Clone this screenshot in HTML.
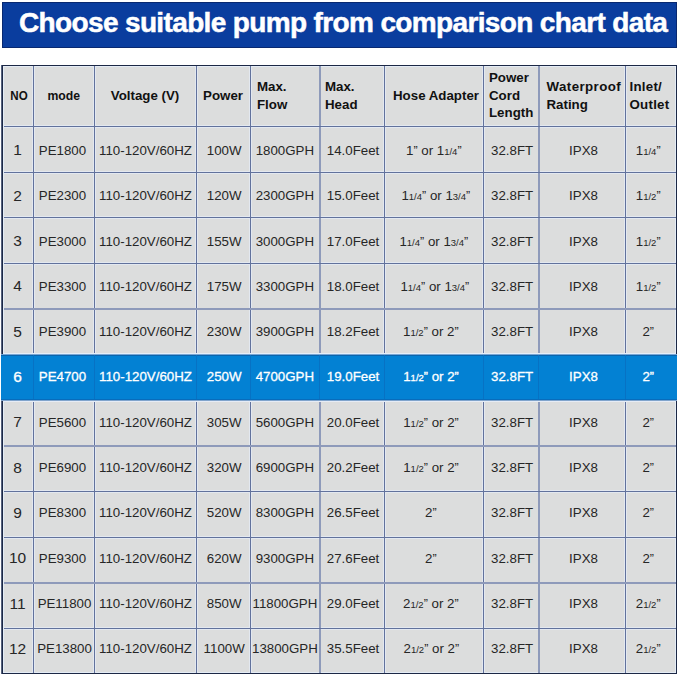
<!DOCTYPE html>
<html><head><meta charset="utf-8">
<style>
html,body{margin:0;padding:0;background:#fff;}
body{width:679px;height:676px;position:relative;overflow:hidden;font-family:"Liberation Sans",sans-serif;}
.banner{position:absolute;left:2px;top:2px;width:675px;height:46px;box-sizing:border-box;border:1px solid #082870;background:#0a3d9e;}
.title{position:absolute;left:16px;top:-3px;height:45px;line-height:45px;color:#fff;font-weight:bold;font-size:28px;letter-spacing:-0.64px;white-space:nowrap;-webkit-text-stroke:0.5px #fff;}
.tbl{position:absolute;left:2px;top:65px;width:674.5px;height:608px;background:#dcdddd;}
.vl{position:absolute;width:1px;background:#7a8496;}
.hl{position:absolute;height:1px;background:#7a8496;}
.c{position:absolute;display:flex;align-items:center;justify-content:center;color:#262626;font-size:13.3px;white-space:nowrap;}
.hd{font-weight:bold;line-height:17.7px;color:#111;}
.hd span{text-align:left;display:block;}
.fr{font-size:9.5px;}
.q{font-size:12.5px;}
.hi{position:absolute;background:#0381d3;}
.w{color:#fff;}
.w span{-webkit-text-stroke:0.3px #fff;}
.no{font-size:15.5px;}
.no span{position:relative;top:0px;}
</style></head><body>
<div class="banner"><div class="title">Choose suitable pump from comparison chart data</div></div>
<div class="tbl"></div>

<div style="position:absolute;left:3px;top:66px;width:673px;height:1px;background:#e4ecf6"></div>
<div style="position:absolute;left:3px;top:672px;width:673px;height:1px;background:#e4ecf6"></div>
<div style="position:absolute;left:675px;top:66px;width:1px;height:607px;background:#e4ecf6"></div>
<div style="position:absolute;left:32px;top:66px;width:3px;height:607px;background:#e3e8f0"></div>
<div style="position:absolute;left:93px;top:66px;width:3px;height:607px;background:#e3e8f0"></div>
<div style="position:absolute;left:195px;top:66px;width:3px;height:607px;background:#e3e8f0"></div>
<div style="position:absolute;left:249px;top:66px;width:3px;height:607px;background:#e3e8f0"></div>
<div style="position:absolute;left:383px;top:66px;width:3px;height:607px;background:#e3e8f0"></div>
<div style="position:absolute;left:482px;top:66px;width:3px;height:607px;background:#e3e8f0"></div>
<div style="position:absolute;left:624px;top:66px;width:3px;height:607px;background:#e3e8f0"></div>
<div style="position:absolute;left:3px;top:125px;width:673px;height:3px;background:#e3e8f0"></div>
<div style="position:absolute;left:3px;top:171px;width:673px;height:3px;background:#e3e8f0"></div>
<div style="position:absolute;left:3px;top:216px;width:673px;height:3px;background:#e3e8f0"></div>
<div style="position:absolute;left:3px;top:262px;width:673px;height:3px;background:#e3e8f0"></div>
<div style="position:absolute;left:3px;top:353px;width:673px;height:3px;background:#e3e8f0"></div>
<div style="position:absolute;left:3px;top:399px;width:673px;height:3px;background:#e3e8f0"></div>
<div style="position:absolute;left:3px;top:490px;width:673px;height:3px;background:#e3e8f0"></div>
<div style="position:absolute;left:3px;top:536px;width:673px;height:3px;background:#e3e8f0"></div>
<div style="position:absolute;left:3px;top:627px;width:673px;height:3px;background:#e3e8f0"></div>
<div style="position:absolute;left:33px;top:66px;width:1px;height:607px;background:#62729c"></div>
<div style="position:absolute;left:94px;top:66px;width:1px;height:607px;background:#62729c"></div>
<div style="position:absolute;left:196px;top:66px;width:1px;height:607px;background:#62729c"></div>
<div style="position:absolute;left:250px;top:66px;width:1px;height:607px;background:#62729c"></div>
<div style="position:absolute;left:319px;top:66px;width:2px;height:607px;background:#8e9aba"></div>
<div style="position:absolute;left:384px;top:66px;width:1px;height:607px;background:#62729c"></div>
<div style="position:absolute;left:483px;top:66px;width:1px;height:607px;background:#62729c"></div>
<div style="position:absolute;left:538px;top:66px;width:2px;height:607px;background:#8e9aba"></div>
<div style="position:absolute;left:625px;top:66px;width:1px;height:607px;background:#62729c"></div>
<div style="position:absolute;left:3px;top:126px;width:673px;height:1px;background:#62729c"></div>
<div style="position:absolute;left:3px;top:172px;width:673px;height:1px;background:#62729c"></div>
<div style="position:absolute;left:3px;top:217px;width:673px;height:1px;background:#62729c"></div>
<div style="position:absolute;left:3px;top:263px;width:673px;height:1px;background:#62729c"></div>
<div style="position:absolute;left:3px;top:308px;width:673px;height:2px;background:#8e9aba"></div>
<div style="position:absolute;left:3px;top:354px;width:673px;height:1px;background:#62729c"></div>
<div style="position:absolute;left:3px;top:400px;width:673px;height:1px;background:#62729c"></div>
<div style="position:absolute;left:3px;top:445px;width:673px;height:2px;background:#8e9aba"></div>
<div style="position:absolute;left:3px;top:491px;width:673px;height:1px;background:#62729c"></div>
<div style="position:absolute;left:3px;top:537px;width:673px;height:1px;background:#62729c"></div>
<div style="position:absolute;left:3px;top:582px;width:673px;height:2px;background:#8e9aba"></div>
<div style="position:absolute;left:3px;top:628px;width:673px;height:1px;background:#62729c"></div>
<div style="position:absolute;left:1px;top:65px;width:676px;height:1px;background:#1c2845"></div>
<div style="position:absolute;left:1px;top:673px;width:676px;height:1px;background:#1c2845"></div>
<div style="position:absolute;left:1px;top:65px;width:1px;height:609px;background:#56627e"></div>
<div style="position:absolute;left:2px;top:65px;width:1px;height:609px;background:#1c2845"></div>
<div style="position:absolute;left:3px;top:66px;width:1px;height:607px;background:#e4ecf6"></div>
<div style="position:absolute;left:676px;top:65px;width:1px;height:609px;background:#1c2845"></div>
<div class="hi" style="left:1px;top:354px;width:676px;height:47px"></div>
<div style="position:absolute;left:3px;top:353px;width:673px;height:1px;background:#e6eef8"></div>
<div style="position:absolute;left:1px;top:354px;width:676px;height:1px;background:#78a6d4"></div>
<div style="position:absolute;left:1px;top:355px;width:676px;height:1px;background:#0b64ac"></div>
<div style="position:absolute;left:1px;top:399px;width:676px;height:1px;background:#086cbc"></div>
<div style="position:absolute;left:1px;top:400px;width:676px;height:1px;background:#80a4cc"></div>
<div style="position:absolute;left:3px;top:401px;width:673px;height:1px;background:#e6ecf6"></div>
<div style="position:absolute;left:33px;top:355px;width:1px;height:44px;background:#0772c4"></div>
<div style="position:absolute;left:94px;top:355px;width:1px;height:44px;background:#0772c4"></div>
<div style="position:absolute;left:196px;top:355px;width:1px;height:44px;background:#0772c4"></div>
<div style="position:absolute;left:250px;top:355px;width:1px;height:44px;background:#0772c4"></div>
<div style="position:absolute;left:319px;top:355px;width:1px;height:44px;background:#0772c4"></div>
<div style="position:absolute;left:384px;top:355px;width:1px;height:44px;background:#0772c4"></div>
<div style="position:absolute;left:483px;top:355px;width:1px;height:44px;background:#0772c4"></div>
<div style="position:absolute;left:538px;top:355px;width:1px;height:44px;background:#0772c4"></div>
<div style="position:absolute;left:625px;top:355px;width:1px;height:44px;background:#0772c4"></div>
<div class="c hd" style="left:3.5px;top:65px;width:31px;height:61px"><span><span style="display:inline-block;transform:scaleX(0.87)">NO</span></span></div>
<div class="c hd" style="left:33px;top:65px;width:61px;height:61px"><span><span style="display:inline-block;transform:scaleX(0.92)">mode</span></span></div>
<div class="c hd" style="left:94px;top:65px;width:102px;height:61px"><span>Voltage (V)</span></div>
<div class="c hd" style="left:196px;top:65px;width:54px;height:61px"><span>Power</span></div>
<div class="c hd" style="left:257px;top:65px;width:62px;height:61px;justify-content:flex-start"><span>Max.<br>Flow</span></div>
<div class="c hd" style="left:325px;top:65px;width:59px;height:61px;justify-content:flex-start"><span>Max.<br>Head</span></div>
<div class="c hd" style="left:386.5px;top:65px;width:99px;height:61px"><span>Hose Adapter</span></div>
<div class="c hd" style="left:489px;top:65px;width:49px;height:61px;justify-content:flex-start"><span>Power<br>Cord<br>Length</span></div>
<div class="c hd" style="left:546.5px;top:65px;width:78.5px;height:61px;justify-content:flex-start"><span><span style="letter-spacing:0.42px;display:inline">Waterproof</span><br>Rating</span></div>
<div class="c hd" style="left:629.5px;top:65px;width:46.5px;height:61px;justify-content:flex-start"><span><span style="letter-spacing:0.25px;display:inline">Inlet/<br>Outlet</span></span></div>
<div class="c dc no" style="left:2.0px;top:127.40px;width:31px;height:46px"><span>1</span></div>
<div class="c dc" style="left:32.0px;top:127.40px;width:61px;height:46px"><span>PE1800</span></div>
<div class="c dc" style="left:94.5px;top:127.40px;width:102px;height:46px"><span>110-120V/60HZ</span></div>
<div class="c dc" style="left:197.2px;top:127.40px;width:54px;height:46px"><span>100W</span></div>
<div class="c dc" style="left:250.4px;top:127.40px;width:69px;height:46px"><span>1800GPH</span></div>
<div class="c dc" style="left:320.5px;top:127.40px;width:65px;height:46px"><span>14.0Feet</span></div>
<div class="c dc" style="left:384.3px;top:127.40px;width:99px;height:46px"><span>1<span class="q">&rdquo;</span> or 1<span class="fr">1/4</span><span class="q">&rdquo;</span></span></div>
<div class="c dc" style="left:484.6px;top:127.40px;width:55px;height:46px"><span>32.8FT</span></div>
<div class="c dc" style="left:540.0px;top:127.40px;width:87px;height:46px"><span>IPX8</span></div>
<div class="c dc" style="left:622.7px;top:127.40px;width:51px;height:46px"><span>1<span class="fr">1/4</span><span class="q">&rdquo;</span></span></div>
<div class="c dc no" style="left:2.0px;top:172.71px;width:31px;height:46px"><span>2</span></div>
<div class="c dc" style="left:32.0px;top:172.71px;width:61px;height:46px"><span>PE2300</span></div>
<div class="c dc" style="left:94.5px;top:172.71px;width:102px;height:46px"><span>110-120V/60HZ</span></div>
<div class="c dc" style="left:197.2px;top:172.71px;width:54px;height:46px"><span>120W</span></div>
<div class="c dc" style="left:250.4px;top:172.71px;width:69px;height:46px"><span>2300GPH</span></div>
<div class="c dc" style="left:320.5px;top:172.71px;width:65px;height:46px"><span>15.0Feet</span></div>
<div class="c dc" style="left:386.3px;top:172.71px;width:99px;height:46px"><span>1<span class="fr">1/4</span><span class="q">&rdquo;</span> or 1<span class="fr">3/4</span><span class="q">&rdquo;</span></span></div>
<div class="c dc" style="left:484.6px;top:172.71px;width:55px;height:46px"><span>32.8FT</span></div>
<div class="c dc" style="left:540.0px;top:172.71px;width:87px;height:46px"><span>IPX8</span></div>
<div class="c dc" style="left:622.7px;top:172.71px;width:51px;height:46px"><span>1<span class="fr">1/2</span><span class="q">&rdquo;</span></span></div>
<div class="c dc no" style="left:2.0px;top:218.02px;width:31px;height:46px"><span>3</span></div>
<div class="c dc" style="left:32.0px;top:218.02px;width:61px;height:46px"><span>PE3000</span></div>
<div class="c dc" style="left:94.5px;top:218.02px;width:102px;height:46px"><span>110-120V/60HZ</span></div>
<div class="c dc" style="left:197.2px;top:218.02px;width:54px;height:46px"><span>155W</span></div>
<div class="c dc" style="left:250.4px;top:218.02px;width:69px;height:46px"><span>3000GPH</span></div>
<div class="c dc" style="left:320.5px;top:218.02px;width:65px;height:46px"><span>17.0Feet</span></div>
<div class="c dc" style="left:384.3px;top:218.02px;width:99px;height:46px"><span>1<span class="fr">1/4</span><span class="q">&rdquo;</span> or 1<span class="fr">3/4</span><span class="q">&rdquo;</span></span></div>
<div class="c dc" style="left:484.6px;top:218.02px;width:55px;height:46px"><span>32.8FT</span></div>
<div class="c dc" style="left:540.0px;top:218.02px;width:87px;height:46px"><span>IPX8</span></div>
<div class="c dc" style="left:622.7px;top:218.02px;width:51px;height:46px"><span>1<span class="fr">1/2</span><span class="q">&rdquo;</span></span></div>
<div class="c dc no" style="left:2.0px;top:263.33px;width:31px;height:46px"><span>4</span></div>
<div class="c dc" style="left:32.0px;top:263.33px;width:61px;height:46px"><span>PE3300</span></div>
<div class="c dc" style="left:94.5px;top:263.33px;width:102px;height:46px"><span>110-120V/60HZ</span></div>
<div class="c dc" style="left:197.2px;top:263.33px;width:54px;height:46px"><span>175W</span></div>
<div class="c dc" style="left:250.4px;top:263.33px;width:69px;height:46px"><span>3300GPH</span></div>
<div class="c dc" style="left:320.5px;top:263.33px;width:65px;height:46px"><span>18.0Feet</span></div>
<div class="c dc" style="left:385.3px;top:263.33px;width:99px;height:46px"><span>1<span class="fr">1/4</span><span class="q">&rdquo;</span> or 1<span class="fr">3/4</span><span class="q">&rdquo;</span></span></div>
<div class="c dc" style="left:484.6px;top:263.33px;width:55px;height:46px"><span>32.8FT</span></div>
<div class="c dc" style="left:540.0px;top:263.33px;width:87px;height:46px"><span>IPX8</span></div>
<div class="c dc" style="left:622.7px;top:263.33px;width:51px;height:46px"><span>1<span class="fr">1/2</span><span class="q">&rdquo;</span></span></div>
<div class="c dc no" style="left:2.0px;top:308.64px;width:31px;height:46px"><span>5</span></div>
<div class="c dc" style="left:32.0px;top:308.64px;width:61px;height:46px"><span>PE3900</span></div>
<div class="c dc" style="left:94.5px;top:308.64px;width:102px;height:46px"><span>110-120V/60HZ</span></div>
<div class="c dc" style="left:197.2px;top:308.64px;width:54px;height:46px"><span>230W</span></div>
<div class="c dc" style="left:250.4px;top:308.64px;width:69px;height:46px"><span>3900GPH</span></div>
<div class="c dc" style="left:320.5px;top:308.64px;width:65px;height:46px"><span>18.2Feet</span></div>
<div class="c dc" style="left:381.3px;top:308.64px;width:99px;height:46px"><span>1<span class="fr">1/2</span><span class="q">&rdquo;</span> or 2<span class="q">&rdquo;</span></span></div>
<div class="c dc" style="left:484.6px;top:308.64px;width:55px;height:46px"><span>32.8FT</span></div>
<div class="c dc" style="left:540.0px;top:308.64px;width:87px;height:46px"><span>IPX8</span></div>
<div class="c dc" style="left:622.7px;top:308.64px;width:51px;height:46px"><span>2<span class="q">&rdquo;</span></span></div>
<div class="c dc w no" style="left:2.0px;top:353.95px;width:31px;height:46px"><span>6</span></div>
<div class="c dc w" style="left:32.0px;top:353.95px;width:61px;height:46px"><span>PE4700</span></div>
<div class="c dc w" style="left:94.5px;top:353.95px;width:102px;height:46px"><span>110-120V/60HZ</span></div>
<div class="c dc w" style="left:197.2px;top:353.95px;width:54px;height:46px"><span>250W</span></div>
<div class="c dc w" style="left:250.4px;top:353.95px;width:69px;height:46px"><span>4700GPH</span></div>
<div class="c dc w" style="left:320.5px;top:353.95px;width:65px;height:46px"><span>19.0Feet</span></div>
<div class="c dc w" style="left:381.5px;top:353.95px;width:99px;height:46px"><span>1<span class="fr">1/2</span><span class="q">&rdquo;</span> or 2<span class="q">&rdquo;</span></span></div>
<div class="c dc w" style="left:484.6px;top:353.95px;width:55px;height:46px"><span>32.8FT</span></div>
<div class="c dc w" style="left:540.0px;top:353.95px;width:87px;height:46px"><span>IPX8</span></div>
<div class="c dc w" style="left:622.7px;top:353.95px;width:51px;height:46px"><span>2<span class="q">&rdquo;</span></span></div>
<div class="c dc no" style="left:2.0px;top:399.26px;width:31px;height:46px"><span>7</span></div>
<div class="c dc" style="left:32.0px;top:399.26px;width:61px;height:46px"><span>PE5600</span></div>
<div class="c dc" style="left:94.5px;top:399.26px;width:102px;height:46px"><span>110-120V/60HZ</span></div>
<div class="c dc" style="left:197.2px;top:399.26px;width:54px;height:46px"><span>305W</span></div>
<div class="c dc" style="left:250.4px;top:399.26px;width:69px;height:46px"><span>5600GPH</span></div>
<div class="c dc" style="left:320.5px;top:399.26px;width:65px;height:46px"><span>20.0Feet</span></div>
<div class="c dc" style="left:381.5px;top:399.26px;width:99px;height:46px"><span>1<span class="fr">1/2</span><span class="q">&rdquo;</span> or 2<span class="q">&rdquo;</span></span></div>
<div class="c dc" style="left:484.6px;top:399.26px;width:55px;height:46px"><span>32.8FT</span></div>
<div class="c dc" style="left:540.0px;top:399.26px;width:87px;height:46px"><span>IPX8</span></div>
<div class="c dc" style="left:622.7px;top:399.26px;width:51px;height:46px"><span>2<span class="q">&rdquo;</span></span></div>
<div class="c dc no" style="left:2.0px;top:444.57px;width:31px;height:46px"><span>8</span></div>
<div class="c dc" style="left:32.0px;top:444.57px;width:61px;height:46px"><span>PE6900</span></div>
<div class="c dc" style="left:94.5px;top:444.57px;width:102px;height:46px"><span>110-120V/60HZ</span></div>
<div class="c dc" style="left:197.2px;top:444.57px;width:54px;height:46px"><span>320W</span></div>
<div class="c dc" style="left:250.4px;top:444.57px;width:69px;height:46px"><span>6900GPH</span></div>
<div class="c dc" style="left:320.5px;top:444.57px;width:65px;height:46px"><span>20.2Feet</span></div>
<div class="c dc" style="left:381.5px;top:444.57px;width:99px;height:46px"><span>1<span class="fr">1/2</span><span class="q">&rdquo;</span> or 2<span class="q">&rdquo;</span></span></div>
<div class="c dc" style="left:484.6px;top:444.57px;width:55px;height:46px"><span>32.8FT</span></div>
<div class="c dc" style="left:540.0px;top:444.57px;width:87px;height:46px"><span>IPX8</span></div>
<div class="c dc" style="left:622.7px;top:444.57px;width:51px;height:46px"><span>2<span class="q">&rdquo;</span></span></div>
<div class="c dc no" style="left:2.0px;top:489.88px;width:31px;height:46px"><span>9</span></div>
<div class="c dc" style="left:32.0px;top:489.88px;width:61px;height:46px"><span>PE8300</span></div>
<div class="c dc" style="left:94.5px;top:489.88px;width:102px;height:46px"><span>110-120V/60HZ</span></div>
<div class="c dc" style="left:197.2px;top:489.88px;width:54px;height:46px"><span>520W</span></div>
<div class="c dc" style="left:250.4px;top:489.88px;width:69px;height:46px"><span>8300GPH</span></div>
<div class="c dc" style="left:320.5px;top:489.88px;width:65px;height:46px"><span>26.5Feet</span></div>
<div class="c dc" style="left:381.3px;top:489.88px;width:99px;height:46px"><span>2<span class="q">&rdquo;</span></span></div>
<div class="c dc" style="left:484.6px;top:489.88px;width:55px;height:46px"><span>32.8FT</span></div>
<div class="c dc" style="left:540.0px;top:489.88px;width:87px;height:46px"><span>IPX8</span></div>
<div class="c dc" style="left:622.7px;top:489.88px;width:51px;height:46px"><span>2<span class="q">&rdquo;</span></span></div>
<div class="c dc no" style="left:2.0px;top:535.19px;width:31px;height:46px"><span>10</span></div>
<div class="c dc" style="left:32.0px;top:535.19px;width:61px;height:46px"><span>PE9300</span></div>
<div class="c dc" style="left:94.5px;top:535.19px;width:102px;height:46px"><span>110-120V/60HZ</span></div>
<div class="c dc" style="left:197.2px;top:535.19px;width:54px;height:46px"><span>620W</span></div>
<div class="c dc" style="left:250.4px;top:535.19px;width:69px;height:46px"><span>9300GPH</span></div>
<div class="c dc" style="left:320.5px;top:535.19px;width:65px;height:46px"><span>27.6Feet</span></div>
<div class="c dc" style="left:381.3px;top:535.19px;width:99px;height:46px"><span>2<span class="q">&rdquo;</span></span></div>
<div class="c dc" style="left:484.6px;top:535.19px;width:55px;height:46px"><span>32.8FT</span></div>
<div class="c dc" style="left:540.0px;top:535.19px;width:87px;height:46px"><span>IPX8</span></div>
<div class="c dc" style="left:622.7px;top:535.19px;width:51px;height:46px"><span>2<span class="q">&rdquo;</span></span></div>
<div class="c dc no" style="left:2.0px;top:580.50px;width:31px;height:46px"><span>11</span></div>
<div class="c dc" style="left:34.0px;top:580.50px;width:61px;height:46px"><span>PE11800</span></div>
<div class="c dc" style="left:94.5px;top:580.50px;width:102px;height:46px"><span>110-120V/60HZ</span></div>
<div class="c dc" style="left:197.2px;top:580.50px;width:54px;height:46px"><span>850W</span></div>
<div class="c dc" style="left:250.4px;top:580.50px;width:69px;height:46px"><span>11800GPH</span></div>
<div class="c dc" style="left:320.5px;top:580.50px;width:65px;height:46px"><span>29.0Feet</span></div>
<div class="c dc" style="left:381.3px;top:580.50px;width:99px;height:46px"><span>2<span class="fr">1/2</span><span class="q">&rdquo;</span> or 2<span class="q">&rdquo;</span></span></div>
<div class="c dc" style="left:484.6px;top:580.50px;width:55px;height:46px"><span>32.8FT</span></div>
<div class="c dc" style="left:540.0px;top:580.50px;width:87px;height:46px"><span>IPX8</span></div>
<div class="c dc" style="left:622.7px;top:580.50px;width:51px;height:46px"><span>2<span class="fr">1/2</span><span class="q">&rdquo;</span></span></div>
<div class="c dc no" style="left:2.0px;top:625.81px;width:31px;height:46px"><span>12</span></div>
<div class="c dc" style="left:34.0px;top:625.81px;width:61px;height:46px"><span>PE13800</span></div>
<div class="c dc" style="left:94.5px;top:625.81px;width:102px;height:46px"><span>110-120V/60HZ</span></div>
<div class="c dc" style="left:197.2px;top:625.81px;width:54px;height:46px"><span>1100W</span></div>
<div class="c dc" style="left:250.4px;top:625.81px;width:69px;height:46px"><span>13800GPH</span></div>
<div class="c dc" style="left:320.5px;top:625.81px;width:65px;height:46px"><span>35.5Feet</span></div>
<div class="c dc" style="left:381.8px;top:625.81px;width:99px;height:46px"><span>2<span class="fr">1/2</span><span class="q">&rdquo;</span> or 2<span class="q">&rdquo;</span></span></div>
<div class="c dc" style="left:484.6px;top:625.81px;width:55px;height:46px"><span>32.8FT</span></div>
<div class="c dc" style="left:540.0px;top:625.81px;width:87px;height:46px"><span>IPX8</span></div>
<div class="c dc" style="left:622.7px;top:625.81px;width:51px;height:46px"><span>2<span class="fr">1/2</span><span class="q">&rdquo;</span></span></div>
</body></html>
